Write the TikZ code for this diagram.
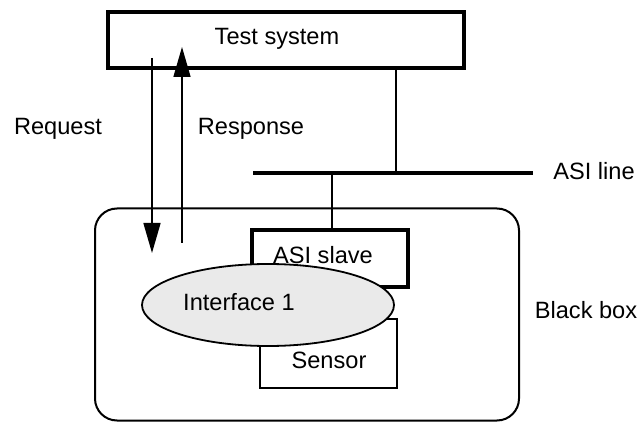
\documentclass[tikz,border=0pt]{standalone}
\usepackage{fontspec}
\setmainfont{Liberation Sans}
\usepackage{tikz}
\usetikzlibrary{arrows.meta,positioning,shapes.geometric}
\definecolor{ifacefill}{RGB}{234,234,234}

\begin{document}
\begin{tikzpicture}[
  x=0.5pt, y=-0.5pt,
  font=\fontsize{11.8}{14}\selectfont, >={Triangle[length=15pt, width=8.5pt]},
  thk/.style={draw=black, line width=2pt, inner sep=0pt},
  thn/.style={draw=black, line width=0.75pt, inner sep=0pt},
  bbox/.style={draw=black, line width=1pt, rounded corners=11pt, inner sep=0pt},
  ifc/.style={ellipse, draw=black, line width=0.9pt, fill=ifacefill, inner sep=0pt},
  bus/.style={line width=2pt},
  ln/.style={line width=0.75pt},
  msg/.style={->, line width=0.75pt},
  lb/.style={inner sep=0pt},
]
\useasboundingbox (0,0) rectangle (642,422);
% outer box and its parts
\node[bbox, minimum width=212pt, minimum height=106pt] (bb) at (307,314.5) {};
\node[thn, minimum width=68.5pt, minimum height=34.5pt] (sens) at (328.5,353.5) {};
\node[lb] (senst) at (329,360) {Sensor};
\node[thk, minimum width=78pt, minimum height=28.5pt] (slave) at (330,258.5) {};
\node[lb] (slavet) at (323,255) {ASI slave};
\node[ifc, minimum width=126pt, minimum height=41pt] (ifc1) at (268,305) {};
\node[lb] (ifct) at (239,302) {Interface 1};
% test system
\node[thk, minimum width=178pt, minimum height=28pt] (ts) at (286,40) {};
\node[lb] (tst) at (277,39) {Test system};
% ASI line
\coordinate (busL) at (253,173);
\coordinate (busR) at (533,173);
\coordinate (tap1) at (396,173);
\coordinate (tap2) at (332,173);
\draw[bus] (busL) -- (busR);
\draw[ln] (ts.south -| tap1) -- (tap1);
\draw[ln] (tap2) -- (tap2 |- slave.north);
% request / response
\coordinate (reqS) at (152,58);
\coordinate (reqE) at (152,253);
\coordinate (resS) at (182,243);
\coordinate (resE) at (182,47);
\draw[msg] (reqS) -- (reqE);
\draw[msg] (resS) -- (resE);
% labels
\node[lb] (lreq) at (58,129) {Request};
\node[lb] (lres) at (251,129) {Response};
\node[lb] (lbus) at (594,171) {ASI line};
\node[lb] (lbb) at (586,310) {Black box};
\end{tikzpicture}
\end{document}
